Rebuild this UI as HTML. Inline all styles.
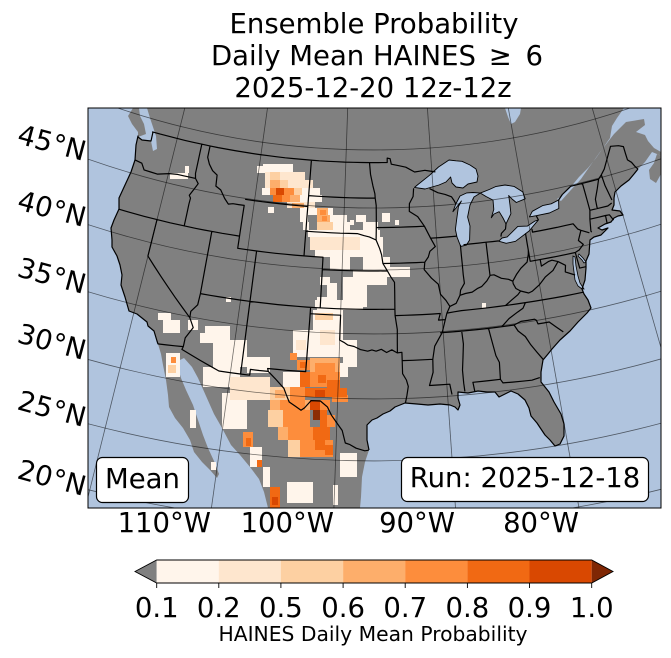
<!DOCTYPE html>
<html><head><meta charset="utf-8">
<style>
html,body{margin:0;padding:0;background:#fff;width:671px;height:658px;overflow:hidden;}
svg{display:block;}
text{font-family:"DejaVu Sans","Liberation Sans",sans-serif;fill:#000;}
</style></head>
<body>
<svg width="671" height="658" viewBox="0 0 671 658" xmlns="http://www.w3.org/2000/svg">
<defs><clipPath id="mc"><rect x="88" y="108" width="573" height="400"/></clipPath></defs>

<text x="374" y="33" font-size="27.5" text-anchor="middle">Ensemble Probability</text>
<text x="377" y="65" font-size="27.5" text-anchor="middle">Daily Mean HAINES <tspan dx="4">≥</tspan> <tspan dx="5">6</tspan></text>
<text x="373" y="97" font-size="27.5" text-anchor="middle">2025-12-20 12z-12z</text>

<g clip-path="url(#mc)">
<rect x="88" y="108" width="573" height="400" fill="#808080"/>
<g fill="#b0c4de">
<polygon points="88,108 133,108 128,116 132,124 138,132 138,136 136,145 135,160 131,172 125,185 119,198 119,209 114,220 111,228 112,240 112,247 117,256 120,265 122,275 121,285 125,297 129,311 137,314 147,322 148,326 154,331 157,341 158,344 161,354 163,365 166,380 168,395 169,407 175,418 183,428 190,440 194,452 202,462 210,470 217,478 219,474 216,466 214,461 208,448 203,435 198,420 193,405 186,390 181,378 178,368 180,360 184,358 192,367 198,378 206,396 214,414 222,428 231,445 240,455 250,467 259,479 264,492 268,508 88,508"/>
<polygon points="139,108 147,108 150,118 153,127 156,136 157,149 153,151 151,141 142,140 138,137 146,134 144,124 140,116"/>
<polygon points="360,508 361,497 362,477 365,462 369,450 367,440 367,430 367,425 372,420 377,418 383,414 390,411 395,407 405,403 417,404 428,405 440,404 450,405 455,407 458,410 460,405 458,398 458,392 468,393 478,391 487,392 495,392 499,397 505,394 511,391 518,394 525,400 529,408 531,416 537,423 545,435 550,440 555,446 560,444 564,436 564,424 561,414 554,402 549,392 541,382 541,372 543,360 548,354 552,349 560,340 570,331 578,322 582,318 587,313 591,308 588,300 584,294 582,289 585,280 586,268 586,261 589,254 590,240 594,237 601,235 608,228 602,230 598,228 605,224 611,222 614,218 618,216 623,215 620,211 612,210 614,205 614,198 615,192 621,186 629,180 634,174 638,169 645,162 652,152 657,154 661,156 661,508"/>
<polygon points="557,199 560,197 570,188 579,177 588,168 596,158 603,148 610,138 612,126 617,118 624,108 661,108 661,152 654,148 648,141 645,135 636,132 645,125 644,119 626,122 614,134 600,152 590,166 581,179 570,191 561,201"/>
<polygon points="505,108 521,108 520,114 515,122 511,124 508,117"/>
<polygon points="582,289 578,286 575,280 574,272 573,264 573,256 575,257 576,266 578,276 580,283 584,289" stroke="#000" stroke-width="0.8"/>
<polygon points="586,262 583,258 579,254 578,256 582,260 584,263" stroke="#000" stroke-width="0.8"/>
</g>
<polygon points="657,154 661,156 661,174 656,183 650,179 649,170 654,163" fill="#808080"/>

<!-- data cells -->
<g fill="#fff5eb">
<rect x="170" y="173" width="18" height="6"/><rect x="185" y="166" width="4" height="7"/>
<rect x="257" y="166" width="8" height="7"/><rect x="263" y="164" width="30" height="8"/>
<rect x="262" y="188" width="58" height="7"/><rect x="273" y="195" width="49" height="7"/>
<rect x="268" y="207" width="6" height="6"/><rect x="300" y="208" width="33" height="7"/>
<rect x="300" y="215" width="8" height="7"/><rect x="330" y="215" width="17" height="7"/>
<rect x="350" y="220" width="4" height="5"/><rect x="356" y="215" width="10" height="7"/>
<rect x="303" y="222" width="6" height="8"/><rect x="333" y="222" width="17" height="8"/>
<rect x="363" y="222" width="15" height="8"/><rect x="382" y="213" width="8" height="9"/>
<rect x="395" y="220" width="4" height="5"/><rect x="308" y="230" width="72" height="7"/>
<rect x="360" y="237" width="23" height="13"/><rect x="315" y="250" width="48" height="7"/>
<rect x="363" y="250" width="20" height="7"/><rect x="330" y="257" width="20" height="13"/>
<rect x="363" y="257" width="27" height="13"/><rect x="390" y="267" width="20" height="10"/>
<rect x="353" y="270" width="37" height="7"/><rect x="320" y="277" width="10" height="8"/>
<rect x="327" y="283" width="10" height="24"/><rect x="343" y="277" width="24" height="30"/>
<rect x="367" y="277" width="20" height="8"/><rect x="317" y="297" width="10" height="20"/>
<rect x="315" y="300" width="10" height="8"/><rect x="327" y="300" width="36" height="10"/>
<rect x="313" y="310" width="30" height="47"/><rect x="293" y="330" width="20" height="27"/>
<rect x="343" y="340" width="14" height="27"/><rect x="340" y="363" width="8" height="14"/>
<rect x="283" y="372" width="17" height="15"/><rect x="340" y="453" width="17" height="24"/>
<rect x="333" y="485" width="5" height="20"/><rect x="200" y="333" width="13" height="10"/>
<rect x="213" y="340" width="34" height="27"/><rect x="247" y="357" width="23" height="16"/>
<rect x="203" y="367" width="37" height="20"/><rect x="222" y="393" width="25" height="36"/>
<rect x="250" y="447" width="12" height="20"/><rect x="263" y="467" width="7" height="20"/>
<rect x="287" y="482" width="26" height="21"/><rect x="158" y="313" width="13" height="7"/>
<rect x="163" y="320" width="17" height="13"/><rect x="166" y="353" width="14" height="24"/>
<rect x="190" y="410" width="6" height="18"/><rect x="211" y="462" width="5" height="8"/>
<rect x="188" y="320" width="10" height="10"/><rect x="205" y="326" width="25" height="14"/>
<rect x="226" y="297" width="5" height="5"/><rect x="482" y="303" width="4" height="5"/>
</g>
<g fill="#fee6ce">
<rect x="265" y="172" width="40" height="8"/><rect x="265" y="180" width="48" height="8"/>
<rect x="287" y="202" width="28" height="6"/><rect x="310" y="237" width="50" height="13"/>
<rect x="320" y="330" width="15" height="15"/><rect x="296" y="340" width="10" height="10"/>
<rect x="230" y="377" width="40" height="23"/>
</g>
<g fill="#fdd0a2">
<rect x="270" y="172" width="10" height="8"/><rect x="280" y="180" width="8" height="8"/>
<rect x="294" y="188" width="8" height="7"/><rect x="317" y="222" width="16" height="8"/>
<rect x="315" y="313" width="18" height="7"/><rect x="270" y="387" width="20" height="13"/>
<rect x="268" y="410" width="15" height="17"/><rect x="288" y="440" width="12" height="17"/>
<rect x="168" y="365" width="8" height="8"/>
</g>
<g fill="#fdae6b">
<rect x="270" y="180" width="10" height="8"/><rect x="290" y="195" width="10" height="7"/>
<rect x="292" y="203" width="12" height="5"/><rect x="317" y="208" width="11" height="7"/>
<rect x="317" y="215" width="13" height="7"/><rect x="310" y="358" width="30" height="15"/>
<rect x="275" y="390" width="10" height="8"/><rect x="270" y="400" width="40" height="10"/>
<rect x="278" y="427" width="10" height="13"/>
</g>
<g fill="#fd8d3c">
<rect x="270" y="188" width="6" height="7"/><rect x="284" y="188" width="10" height="7"/>
<rect x="282" y="195" width="8" height="7"/><rect x="320" y="210" width="6" height="5"/>
<rect x="322" y="216" width="5" height="5"/><rect x="290" y="353" width="7" height="7"/>
<rect x="297" y="360" width="13" height="10"/><rect x="315" y="363" width="20" height="10"/>
<rect x="310" y="372" width="30" height="15"/><rect x="290" y="387" width="15" height="13"/>
<rect x="332" y="395" width="16" height="7"/><rect x="280" y="400" width="25" height="10"/>
<rect x="320" y="400" width="10" height="10"/><rect x="283" y="410" width="27" height="17"/>
<rect x="327" y="415" width="8" height="12"/><rect x="288" y="427" width="25" height="13"/>
<rect x="300" y="440" width="33" height="17"/><rect x="243" y="432" width="10" height="15"/>
<rect x="171" y="357" width="5" height="6"/>
</g>
<g fill="#f16913">
<rect x="273" y="195" width="9" height="7"/><rect x="300" y="362" width="6" height="6"/>
<rect x="300" y="372" width="10" height="15"/><rect x="318" y="375" width="8" height="8"/>
<rect x="327" y="380" width="13" height="13"/><rect x="305" y="388" width="42" height="9"/>
<rect x="320" y="410" width="7" height="17"/><rect x="313" y="427" width="17" height="13"/>
<rect x="315" y="440" width="10" height="10"/><rect x="325" y="445" width="8" height="10"/>
<rect x="246" y="438" width="5" height="8"/><rect x="257" y="460" width="5" height="7"/>
<rect x="270" y="487" width="10" height="21"/>
</g>
<g fill="#d94801">
<rect x="276" y="188" width="8" height="7"/><rect x="315" y="390" width="10" height="7"/>
<rect x="310" y="400" width="10" height="10"/><rect x="272" y="497" width="6" height="8"/>
</g>
<g fill="#8c2d04"><rect x="313" y="410" width="7" height="10"/></g>

<!-- lakes -->
<g fill="#b0c4de" stroke="#000" stroke-width="0.9" stroke-linejoin="round">
<polygon points="414.5,187.4 417.8,184.6 429.5,175.3 438.5,167 449,160 456,160.8 462,161.3 470,165 476,169 478,176 477,182 468,184 463,188 456,187 452,183 450.6,177 446,182 439,185 425,189"/>
<polygon points="480.3,193.1 474,197 470,205 467.6,217 470,226 469.6,240 466.4,245.1 460.8,246.4 459.5,243.4 457,237 455.4,229.5 456.5,220.7 458.4,206.7 461.4,201 456,208 452.9,211.7 455.8,204 460,196 466.8,192.9 473,192.5"/>
<polygon points="480.3,193.1 489.3,189.5 495.6,186.6 505,185 514,186.4 522.7,191.9 525.2,198.8 516.3,202.5 512,199 508.7,195.5 510,205 510.9,213.7 506,224 503,218 499.2,211.7 494,214 491.3,217.8 493.8,209.4 493,200.1 486,196.5 482.7,194.5"/>
<polygon points="498.7,241.2 506.2,243.3 515.5,241.3 529.1,231 538.4,219.9 535,221 527.3,226.1 517.8,226.4 507.2,236.9 502,238"/>
<polygon points="529.4,216.9 536.2,215.7 549.4,213 558.8,208.5 558.6,200 551.2,203.8 542.6,205.6 532.3,211.3"/>
</g>

<!-- US coastlines and borders -->
<g fill="none" stroke="#000" stroke-width="1.2" stroke-linejoin="round">
<polyline points="153,132 151,141 142,140 138,137 138,136 136,145 135,160 131,172 125,185 119,198 119,209 114,220 111,228 112,240 112,247 117,256 120,265 122,275 121,285 125,297 129,311 137,314 147,322 148,326 154,331 157,341 158,344"/>
<polyline points="369,450 367,440 367,430 367,425 372,420 377,418 383,414 390,411 395,407 405,403 417,404 428,405 440,404 450,405 455,407 458,410 460,405 458,398 458,392 468,393 478,391 487,392 495,392 499,397 505,394 511,391 518,394 525,400 529,408 531,416 537,423 545,435 550,440 555,446 560,444 564,436 564,424 561,414 554,402 549,392 541,382 541,372 543,360 548,354 552,349 560,340 570,331 578,322 582,318 587,313 591,308 588,300 584,294 582,289 585,280 586,268 586,261 589,254 590,240 594,237 601,235 608,228 602,230 598,228 605,224 611,222 614,218 618,216 623,215 620,211 612,210 614,205 614,198 615,192 621,186 629,180 634,174 638,169"/>
<path id="borders" d=""/>
</g>

<!-- gridlines -->
<g fill="none" stroke="#000" stroke-opacity="0.55" stroke-width="0.8">
<path d="M88,97.3 A803,803 0 0 0 661,96.9"/>
<path d="M88,159.1 A861,861 0 0 0 661,158.8"/>
<path d="M88,224.6 A923,923 0 0 0 661,224.2"/>
<path d="M88,291.7 A987,987 0 0 0 661,291.2"/>
<path d="M88,359.4 A1052,1052 0 0 0 661,358.9"/>
<path d="M88,423.7 A1114,1114 0 0 0 661,423.2"/>
<path d="M88,489.7 A1178,1178 0 0 0 661,489.3"/>
<line x1="184.8" y1="108" x2="88" y2="497"/>
<line x1="267.5" y1="108" x2="211.4" y2="508"/>
<line x1="347.7" y1="108" x2="333.9" y2="508"/>
<line x1="427.4" y1="108" x2="455.5" y2="508"/>
<line x1="508.3" y1="108" x2="579" y2="508"/>
<line x1="592.2" y1="108" x2="661" y2="347.7"/>
</g>
</g>
<rect x="88" y="108" width="573" height="400" fill="none" stroke="#000" stroke-width="1"/>

<!-- text boxes -->
<rect x="96.5" y="457.5" width="92" height="45" rx="6" ry="6" fill="#fff" stroke="#000" stroke-width="1.2"/>
<text x="142.5" y="488" font-size="27.5" text-anchor="middle">Mean</text>
<rect x="401.5" y="457.5" width="247" height="44" rx="6" ry="6" fill="#fff" stroke="#000" stroke-width="1.2"/>
<text x="525" y="487" font-size="27.5" text-anchor="middle">Run: 2025-12-18</text>

<!-- axis labels -->
<g font-size="27.5" text-anchor="end">
<text x="211" y="532">110°W</text>
<text x="334" y="532">100°W</text>
<text x="455" y="532">90°W</text>
<text x="579" y="532">80°W</text>
<text transform="translate(83,161) rotate(15)">45°N</text>
<text transform="translate(83,227) rotate(15)">40°N</text>
<text transform="translate(83,294) rotate(15)">35°N</text>
<text transform="translate(83,360) rotate(15)">30°N</text>
<text transform="translate(83,427) rotate(15)">25°N</text>
<text transform="translate(83,496) rotate(15)">20°N</text>
</g>

<!-- colorbar -->
<polygon points="135,571.5 156.7,560 156.7,583" fill="#808080"/>
<rect x="156.7" y="560" width="62.2" height="23" fill="#fff5eb"/>
<rect x="218.8" y="560" width="62.2" height="23" fill="#fee6ce"/>
<rect x="280.9" y="560" width="62.2" height="23" fill="#fdd0a2"/>
<rect x="343.1" y="560" width="62.2" height="23" fill="#fdae6b"/>
<rect x="405.2" y="560" width="62.2" height="23" fill="#fd8d3c"/>
<rect x="467.4" y="560" width="62.2" height="23" fill="#f16913"/>
<rect x="529.5" y="560" width="62.2" height="23" fill="#d94801"/>
<polygon points="591.7,560 613,571.5 591.7,583" fill="#7f2704"/>
<path d="M135,571.5 L156.7,560 L591.7,560 L613,571.5 L591.7,583 L156.7,583 Z" fill="none" stroke="#000" stroke-width="0.9"/>
<g stroke="#000" stroke-width="0.9">
<line x1="156.7" y1="583" x2="156.7" y2="588"/><line x1="218.8" y1="583" x2="218.8" y2="588"/>
<line x1="280.9" y1="583" x2="280.9" y2="588"/><line x1="343.1" y1="583" x2="343.1" y2="588"/>
<line x1="405.2" y1="583" x2="405.2" y2="588"/><line x1="467.4" y1="583" x2="467.4" y2="588"/>
<line x1="529.5" y1="583" x2="529.5" y2="588"/><line x1="591.7" y1="583" x2="591.7" y2="588"/>
</g>
<g font-size="27.5" text-anchor="middle">
<text x="156.7" y="617">0.1</text><text x="218.8" y="617">0.2</text>
<text x="280.9" y="617">0.5</text><text x="343.1" y="617">0.6</text>
<text x="405.2" y="617">0.7</text><text x="467.4" y="617">0.8</text>
<text x="529.5" y="617">0.9</text><text x="591.7" y="617">1.0</text>
</g>
<text x="373" y="641" font-size="20.3" text-anchor="middle">HAINES Daily Mean Probability</text>
</svg>
<script>
(function(){
var T=[[20,1178],[25,1114],[30,1052],[35,987],[40,923],[45,861],[50,803]];
function rho(lat){
  if(lat<=20) return 1178+(20-lat)*12.8;
  if(lat>=50) return 803-(lat-50)*11.6;
  for(var i=0;i<T.length-1;i++){
    if(lat>=T[i][0]&&lat<=T[i+1][0]){var f=(lat-T[i][0])/5;return T[i][1]+f*(T[i+1][1]-T[i][1]);}
  }
  return 900;
}
function P(lat,lon){var r=rho(lat),t=0.6*(lon+96.7)*Math.PI/180;return [374+r*Math.sin(t),-652+r*Math.cos(t)];}
var L=[
[[49,-123.05],[49,-95.15],[49.38,-95.15],[49.32,-94.8],[48.85,-94.68],[48.7,-93.8],[48.55,-93.0],[48.1,-92.0],[48.2,-90.8],[48.0,-89.6]],
[[43.0,-82.42],[42.6,-82.55],[42.3,-83.05],[42.05,-83.15]],
[[42.88,-78.9],[43.25,-79.05]],
[[44.13,-76.33],[44.5,-75.8],[45.0,-74.7],[45.0,-71.5],[45.3,-71.08],[45.7,-70.6],[46.4,-70.05],[47.45,-69.2],[47.3,-68.3],[47.1,-67.8],[45.9,-67.8],[45.6,-67.45],[45.15,-67.2],[44.9,-67.0]],
[[46.25,-124.0],[46.15,-123.2],[45.65,-122.75],[45.6,-121.2],[45.9,-119.9],[46.0,-118.98],[46.0,-116.92]],
[[49,-117.04],[46.42,-117.04],[46.0,-116.92],[45.6,-116.5],[45.1,-116.8],[44.5,-117.2],[44.3,-117.0],[43.8,-117.03],[42.0,-117.03]],
[[42,-124.2],[42,-111.05]],
[[42,-120],[39,-120],[35,-114.63],[34.3,-114.13],[33.4,-114.7],[32.72,-114.72]],
[[42,-114.04],[37,-114.04],[36.1,-114.1],[35.5,-114.65],[35,-114.63]],
[[49,-116.05],[48,-116.05],[47.45,-115.7],[46.95,-115.2],[46.65,-114.6],[45.7,-114.5],[45.45,-113.9],[44.8,-113.3],[44.4,-112.8],[44.5,-112.3],[44.5,-111.05],[41,-111.05],[41,-102.05],[37,-102.05]],
[[45,-111.05],[45,-104.05]],
[[49,-104.05],[41,-104.05]],
[[41,-109.05],[31.33,-109.05]],
[[37,-114.04],[37,-94.62]],
[[37,-103.0],[32.0,-103.06],[32.0,-106.62],[31.78,-106.53]],
[[36.5,-103.0],[36.5,-100.0],[34.56,-100.0],[34.4,-99.6],[34.2,-99.2],[34.1,-98.6],[33.87,-98.0],[33.75,-97.3],[33.85,-96.9],[33.75,-96.5],[33.9,-96.0],[33.65,-95.5],[33.85,-95.0],[33.6,-94.5],[33.64,-94.05],[33.0,-94.04],[31.99,-94.04],[31.5,-93.7],[31.0,-93.55],[30.3,-93.7],[29.75,-93.85]],
[[37,-94.62],[36.5,-94.62],[35.4,-94.43],[33.64,-94.48]],
[[37,-94.62],[39.1,-94.6],[39.5,-94.95],[40.0,-95.31],[40.6,-95.77],[41.3,-95.9],[41.8,-96.1],[42.5,-96.48]],
[[40,-102.05],[40,-95.31]],
[[43,-104.05],[43,-98.5],[42.85,-97.8],[42.75,-97.2],[42.5,-96.48]],
[[45.94,-104.05],[45.94,-96.56]],
[[49,-97.23],[48.0,-97.1],[47.0,-96.83],[46.3,-96.6],[45.94,-96.56],[45.3,-96.45],[43.5,-96.45],[42.5,-96.48]],
[[43.5,-96.45],[43.5,-91.22]],
[[40.6,-95.77],[40.6,-91.4]],
[[46.7,-92.2],[46.0,-92.3],[45.4,-92.75],[44.75,-92.8],[44.3,-91.9],[43.5,-91.22],[42.5,-90.64],[41.8,-90.2],[41.45,-90.8],[41.0,-91.0],[40.6,-91.4],[40.0,-91.5],[39.3,-90.8],[38.8,-90.15],[38.0,-90.0],[37.5,-89.5],[37.0,-89.15],[36.5,-89.5],[36.0,-89.7],[35.0,-90.1],[34.0,-90.9],[33.0,-91.15],[32.0,-91.2],[31.0,-91.6],[31.0,-89.73],[30.2,-89.6]],
[[36.5,-94.62],[36.5,-90.15],[36.0,-90.37],[36.0,-89.7]],
[[33.0,-94.04],[33.0,-91.15]],
[[46.6,-90.4],[46.2,-89.5],[46.0,-88.7],[45.75,-88.0],[45.4,-87.75],[45.1,-87.6]],
[[42.5,-90.64],[42.5,-87.8]],
[[41.76,-87.53],[39.4,-87.53],[38.7,-87.5],[38.2,-87.95],[37.8,-88.05]],
[[37.0,-89.15],[37.2,-88.5],[37.8,-88.05],[37.9,-87.5],[37.95,-86.8],[38.2,-86.2],[38.3,-85.8],[38.7,-85.2],[39.1,-84.8],[39.1,-84.4],[38.75,-83.7],[38.6,-83.0],[38.4,-82.6],[38.9,-82.1],[39.3,-81.6],[39.7,-80.85],[40.3,-80.6],[40.64,-80.52]],
[[41.76,-87.2],[41.76,-84.8],[41.73,-83.45]],
[[41.76,-84.8],[39.1,-84.82]],
[[42.0,-80.52],[39.72,-80.52],[39.72,-75.79],[38.45,-75.7],[38.45,-75.05]],
[[39.72,-75.79],[39.83,-75.4]],
[[42.27,-79.76],[42.0,-79.76],[42.0,-75.35],[41.5,-75.0],[41.35,-74.7],[40.6,-75.2],[40.2,-74.8],[39.8,-75.4]],
[[41.35,-74.7],[41.0,-73.9]],
[[39.72,-79.48],[39.2,-79.48],[39.45,-78.7],[39.5,-78.3],[39.3,-77.72],[38.7,-78.4],[38.3,-79.3],[37.8,-80.0],[37.4,-80.8],[37.3,-81.2],[37.55,-81.97],[37.8,-82.4],[38.2,-82.6],[38.4,-82.6]],
[[37.55,-81.97],[37.3,-82.3],[36.6,-83.68]],
[[36.5,-89.5],[36.6,-88.05],[36.6,-81.68],[36.55,-75.87]],
[[36.6,-81.68],[36.2,-82.0],[35.95,-82.6],[35.55,-83.5],[35.0,-84.3]],
[[35.0,-90.3],[35.0,-83.1],[35.2,-82.4],[35.2,-81.05],[35.1,-80.9],[34.8,-80.8],[34.8,-79.7],[33.85,-78.55]],
[[35.0,-83.1],[34.5,-82.8],[34.0,-82.2],[33.3,-81.8],[32.05,-80.88]],
[[35.0,-88.2],[34.0,-88.15],[32.0,-88.45],[31.0,-88.45],[30.35,-88.4]],
[[35.0,-85.6],[32.85,-85.2],[32.3,-84.95],[31.0,-85.05],[30.7,-84.86],[30.6,-82.2],[30.7,-81.45]],
[[30.3,-87.5],[31.0,-87.6],[31.0,-85.05]],
[[45.0,-73.35],[43.6,-73.3],[42.75,-73.27],[42.05,-73.5],[41.1,-73.7],[41.0,-73.65]],
[[42.75,-73.27],[42.72,-71.3],[42.87,-70.8]],
[[42.72,-72.46],[43.5,-72.4],[44.3,-71.9],[45.0,-71.5]],
[[45.3,-71.08],[44.4,-71.0],[43.1,-70.7]],
[[42.05,-73.5],[42.03,-71.8],[41.35,-71.85]],
[[42.03,-71.8],[42.0,-71.38],[41.5,-71.1]],
[[39.3,-77.72],[38.9,-77.05],[38.4,-77.2],[38.0,-76.3]],
[[32.53,-117.12],[32.72,-114.72],[32.49,-114.8],[31.33,-111.07],[31.33,-108.2],[31.78,-108.2],[31.78,-106.53],[31.3,-105.85],[30.6,-104.95],[29.56,-104.37],[29.26,-103.78],[28.97,-103.25],[29.18,-102.95],[29.8,-102.4],[29.81,-101.56],[29.36,-100.9],[28.7,-100.5],[27.5,-99.5],[26.5,-99.2],[26.38,-98.8],[26.1,-98.25],[25.9,-97.5],[25.95,-97.15]]
];
var d='';
for(var j=0;j<L.length;j++){
  var line=L[j];
  for(var i=0;i<line.length;i++){
    var a=line[i];
    if(i===0){var p=P(a[0],a[1]);d+='M'+p[0].toFixed(1)+' '+p[1].toFixed(1);}
    else{
      var b=line[i-1];
      var n=Math.max(1,Math.ceil(Math.max(Math.abs(a[0]-b[0]),Math.abs(a[1]-b[1]))));
      for(var k=1;k<=n;k++){
        var q=P(b[0]+(a[0]-b[0])*k/n,b[1]+(a[1]-b[1])*k/n);
        d+='L'+q[0].toFixed(1)+' '+q[1].toFixed(1);
      }
    }
  }
}
document.getElementById('borders').setAttribute('d',d);
})();
</script>
</body></html>
